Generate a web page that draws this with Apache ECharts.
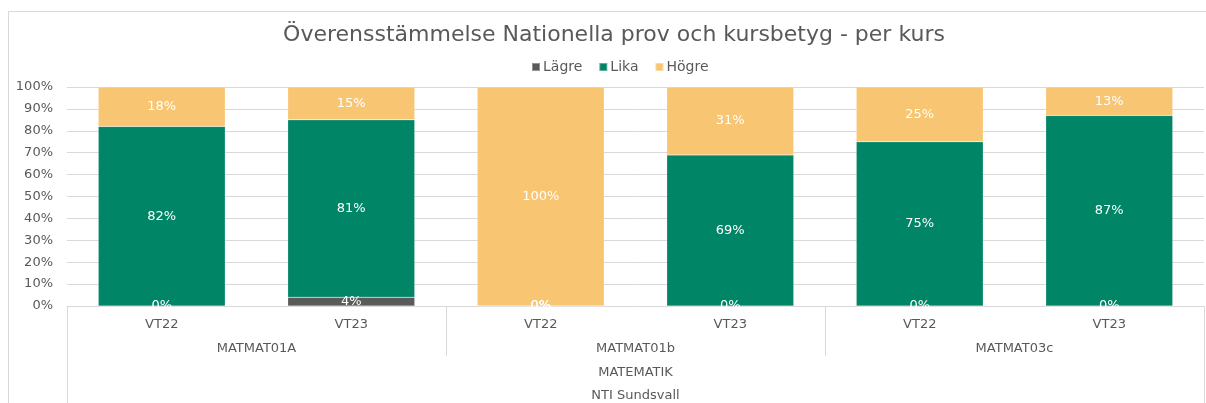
<!DOCTYPE html>
<html>
<head>
<meta charset="utf-8">
<script src="https://cdn.jsdelivr.net/npm/echarts@6/dist/echarts.min.js"></script>
<style>
html,body{margin:0;padding:0;background:#fff;overflow:hidden;width:1206px;height:403px;}
#topline{position:absolute;left:8px;top:11px;width:1198px;height:1px;background:#d9d9d9;}
#leftline{position:absolute;left:8px;top:11px;width:1px;height:392px;background:#d9d9d9;}
#chart{position:absolute;left:0;top:0;width:1206px;height:403px;}
</style>
</head>
<body>
<div id="topline"></div>
<div id="leftline"></div>
<div id="chart"></div>
<script>
const terms = ['VT22', 'VT23', 'VT22', 'VT23', 'VT22', 'VT23'];
const courses = ['MATMAT01A', 'MATMAT01b', 'MATMAT03c'];
const subjects = ['MATEMATIK'];
const schools = ['NTI Sundsvall'];
const lagre = [0, 4, 0, 0, 0, 0];
const lika = [82, 81, 0, 69, 75, 87];
const hogre = [18, 15, 100, 31, 25, 13];

const FONT = 'DejaVu Sans';
const TXT = '#595959';
const LINE = '#d9d9d9';

const chart = echarts.init(document.getElementById('chart'), null, {renderer: 'canvas'});

function barSeries(name, data, color) {
  return {
    name: name,
    type: 'bar',
    stack: 'total',
    data: data,
    barWidth: '67%',
    itemStyle: {color: color, borderColor: 'rgba(255,255,255,0.35)', borderWidth: 0.5},
    label: {
      show: true,
      position: 'inside',
      formatter: '{c}%',
      color: '#ffffff',
      fontFamily: FONT,
      fontSize: 13
    },
    emphasis: {disabled: true}
  };
}

function extraAxis(data, tickLen, margin) {
  return {
    type: 'category',
    position: 'bottom',
    data: data,
    gridIndex: 0,
    axisLine: {show: false},
    axisTick: {show: true, length: tickLen, interval: 0, lineStyle: {color: LINE}},
    axisLabel: {margin: margin, color: TXT, fontFamily: FONT, fontSize: 13, interval: 0},
    splitLine: {show: false}
  };
}

chart.setOption({
  animation: false,
  backgroundColor: 'transparent',
  title: {
    text: 'Överensstämmelse Nationella prov och kursbetyg - per kurs',
    left: 609,
    textAlign: 'center',
    top: 19,
    textStyle: {fontFamily: FONT, fontSize: 22, fontWeight: 'normal', color: TXT}
  },
  legend: {
    top: 55,
    left: 526,
    itemWidth: 8,
    itemHeight: 8,
    itemGap: 16,
    icon: 'rect',
    textStyle: {fontFamily: FONT, fontSize: 14, color: TXT, padding: [0, 0, 0, -2]},
    data: ['Lägre', 'Lika', 'Högre']
  },
  grid: {left: 67, right: 2, top: 87, bottom: 97, containLabel: false},
  xAxis: [
    {
      type: 'category',
      data: terms,
      position: 'bottom',
      axisLine: {show: true, lineStyle: {color: LINE}},
      axisTick: {show: false},
      axisLabel: {margin: 12, color: TXT, fontFamily: FONT, fontSize: 13, interval: 0}
    },
    extraAxis(courses, 50, 36),
    extraAxis(subjects, 97, 60),
    extraAxis(schools, 97, 83)
  ],
  yAxis: {
    type: 'value',
    min: 0,
    max: 100,
    interval: 10,
    axisLine: {show: false},
    axisTick: {show: false},
    axisLabel: {formatter: '{value}%', color: TXT, fontFamily: FONT, fontSize: 13, margin: 14},
    splitLine: {lineStyle: {color: LINE, width: 1}}
  },
  series: [
    barSeries('Lägre', lagre, '#5a5a5a'),
    barSeries('Lika', lika, '#008566'),
    barSeries('Högre', hogre, '#f8c672')
  ]
});
</script>
</body>
</html>
